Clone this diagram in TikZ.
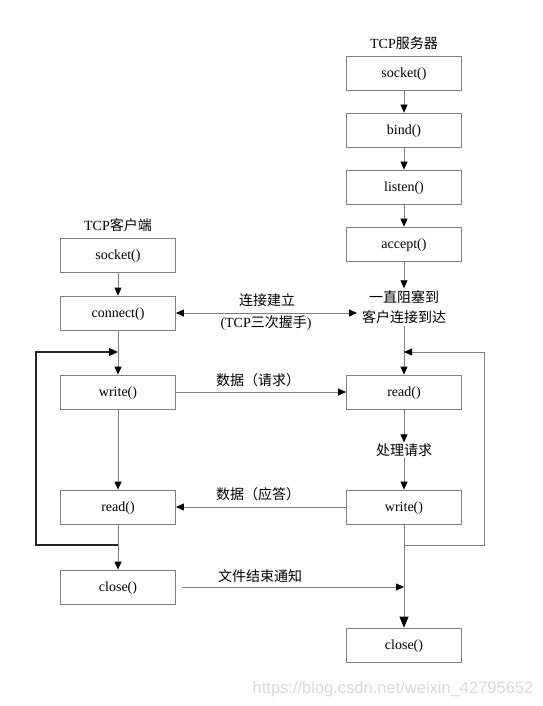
\documentclass[tikz,border=0pt]{standalone}
\usepackage{fontspec}
\setmainfont{Liberation Serif}
\newfontfamily\cjk{Noto Sans CJK SC}
\newfontfamily\wmfont{Liberation Sans}
\usetikzlibrary{arrows.meta}
\definecolor{linegray}{HTML}{808080}
\definecolor{wmgray}{HTML}{D8D8D8}
\begin{document}
\begin{tikzpicture}[x=1pt,y=-1pt,
  box/.style={draw=linegray, line width=0.8pt, minimum width=115pt, minimum height=34pt, inner sep=0pt, text height=9.6pt, text depth=1pt, font=\fontsize{14}{16}\selectfont},
  lbl/.style={inner sep=1pt, font=\fontsize{14}{16}\selectfont},
  conn/.style={draw=linegray, line width=0.8pt, -{Triangle[length=8pt,width=7pt,color=black]}},
  biconn/.style={draw=linegray, line width=0.8pt, {Triangle[length=8pt,width=7pt,color=black]}-{Triangle[length=8pt,width=7pt,color=black]}},
  bigconn/.style={draw=linegray, line width=0.8pt, -{Triangle[length=11pt,width=9pt,color=black]}},
  loopconn/.style={draw=black!85, line width=1.4pt, -{Triangle[length=9pt,width=8pt,color=black]}}
]
\useasboundingbox (0,0) rectangle (542,706);
\fill[white] (0,0) rectangle (542,706);

% titles
\node[lbl] (tcps) at (404,43) {TCP{\cjk 服务器}};
\node[lbl] (tcpc) at (118,225) {TCP{\cjk 客户端}};

% server column
\node[box] (ss) at (404,73) {socket()};
\node[box] (sb) at (404,130) {bind()};
\node[box] (sl) at (404,187) {listen()};
\node[box] (sa) at (404,244) {accept()};
\node[lbl, align=center, inner sep=2pt, font=\fontsize{14}{20}\selectfont] (blk) at (404,307) {{\cjk 一直阻塞到}\\{\cjk 客户连接到达}};
\node[box] (sr) at (404,392) {read()};
\node[lbl] (proc) at (404,450) {\cjk 处理请求};
\node[box] (sw) at (404,507) {write()};
\node[box] (scl) at (404,645) {close()};

% client column
\node[box] (cs) at (118,255) {socket()};
\node[box] (cc) at (118,313) {connect()};
\node[box] (cw) at (118,392) {write()};
\node[box] (cr) at (118,507) {read()};
\node[box] (ccl) at (118,587) {close()};

% middle labels
\node[lbl] (l1) at (267,300) {\cjk 连接建立};
\node[lbl] (l2) at (266,323) {(TCP{\cjk 三次握手})};
\node[lbl] (l3) at (258,380) {\cjk 数据（请求）};
\node[lbl] (l4) at (258,494) {\cjk 数据（应答）};
\node[lbl] (l5) at (260,576) {\cjk 文件结束通知};

% server arrows
\draw[conn] (ss) -- (sb);
\draw[conn] (sb) -- (sl);
\draw[conn] (sl) -- (sa);
\draw[conn] (sa) -- (blk);
\draw[conn] (blk) -- (sr);
\draw[conn] (sr) -- (proc);
\draw[conn] (proc) -- (sw);
\draw[bigconn] (sw) -- (scl);

% server loop
\coordinate (r1) at (404,545);
\coordinate (r2) at (484,545);
\coordinate (r3) at (484,352);
\coordinate (r4) at (404,352);
\draw[conn] (r1) -- (r2) -- (r3) -- (r4);

% client arrows
\draw[conn] (cs) -- (cc);
\draw[conn] (cc) -- (cw);
\draw[conn] (cw) -- (cr);
\draw[conn] (cr) -- (ccl);

% client loop
\coordinate (c1) at (118,545);
\coordinate (c2) at (36,545);
\coordinate (c3) at (36,352);
\coordinate (c4) at (118,352);
\draw[loopconn] (c1) -- (c2) -- (c3) -- (c4);

% horizontal connectors
\coordinate (hs) at (357,313);
\draw[biconn] (cc) -- (hs);
\draw[conn] (cw) -- (sr);
\draw[conn] (sw) -- (cr);
\coordinate (ce) at (182,587);
\coordinate (cend) at (404,587);
\draw[conn] (ce) -- (cend);

% watermark
\node[inner sep=0pt, text=wmgray, font=\wmfont\fontsize{16.5}{18}\selectfont] (wm) at (393,689) {https://blog.csdn.net/weixin\_42795652};
\end{tikzpicture}
\end{document}
